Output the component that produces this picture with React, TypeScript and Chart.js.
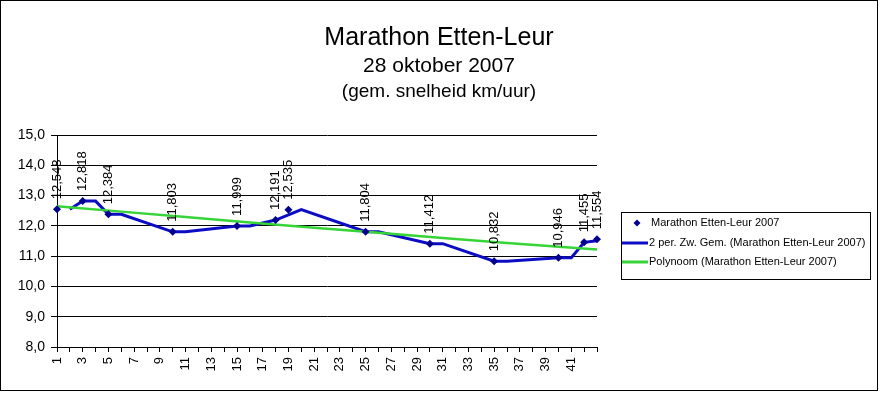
import React, { useEffect, useRef } from 'react';
import { Chart, registerables } from 'chart.js';

Chart.register(...registerables);

const FONT = "'Liberation Sans', Arial, Helvetica, sans-serif";

const categories = [
  '1', '2', '3', '4', '5', '6', '7', '8', '9', '10',
  '11', '12', '13', '14', '15', '16', '17', '18', '19', '20',
  '21', '22', '23', '24', '25', '26', '27', '28', '29', '30',
  '31', '32', '33', '34', '35', '36', '37', '38', '39', '40',
  '41', '42', '43',
];

// measured average speeds (km/uur) at the km points
const measuredKm = [1, 3, 5, 10, 15, 18, 19, 25, 30, 35, 40, 42, 43];
const measuredSpeed = [12.548, 12.818, 12.384, 11.803, 11.999, 12.191, 12.535, 11.804, 11.412, 10.832, 10.946, 11.455, 11.554];

// 2-period moving average trendline
const movingAvgKm = [2, 3, 4, 5, 6, 10, 11, 15, 16, 18, 19, 20, 25, 26, 30, 31, 35, 36, 40, 41, 42, 43];
const movingAvgSpeed = [12.548, 12.818, 12.818, 12.384, 12.384, 11.803, 11.803, 11.999, 11.999, 12.191, 12.363, 12.535, 11.804, 11.804, 11.412, 11.412, 10.832, 10.832, 10.946, 10.946, 11.455, 11.505];

// polynomial trendline
const trendKm = [1, 6, 11, 16, 21, 26, 31, 36, 43];
const trendSpeed = [12.65, 12.47, 12.29, 12.11, 11.94, 11.77, 11.6, 11.43, 11.22];

const titleLines = ['Marathon Etten-Leur', '28 oktober 2007', '(gem. snelheid km/uur)'];
const seriesNames = [
  'Marathon Etten-Leur 2007',
  '2 per. Zw. Gem. (Marathon Etten-Leur 2007)',
  'Polynoom (Marathon Etten-Leur 2007)',
];

const NAVY = '#00008e';
const BLUE = '#0c0cc4';
const GREEN = '#36d436';

function spread(xs: number[], ys: number[]): (number | null)[] {
  const arr: (number | null)[] = categories.map(() => null);
  xs.forEach((x, i) => {
    const idx = categories.indexOf(String(x));
    if (idx >= 0) arr[idx] = ys[i];
  });
  return arr;
}

const fmt = (v: number, d: number) => v.toFixed(d).replace('.', ',');

const framePlugin = {
  id: 'frame',
  beforeDraw(chart: any) {
    const ctx = chart.ctx;
    ctx.save();
    ctx.fillStyle = '#fff';
    ctx.fillRect(0, 0, chart.width, chart.height);
    ctx.strokeStyle = '#000';
    ctx.lineWidth = 1;
    ctx.strokeRect(0.5, 0.5, 877, 390);
    ctx.restore();
  },
};

const titlePlugin = {
  id: 'titles',
  afterDraw(chart: any) {
    const ctx = chart.ctx;
    ctx.save();
    ctx.fillStyle = '#000';
    ctx.textAlign = 'center';
    ctx.textBaseline = 'alphabetic';
    const specs = [
      { size: 25, y: 45 },
      { size: 21, y: 72 },
      { size: 19, y: 97 },
    ];
    titleLines.forEach((t, i) => {
      ctx.font = `${specs[i].size}px ${FONT}`;
      ctx.fillText(t, 439, specs[i].y);
    });
    ctx.restore();
  },
};

const labelPlugin = {
  id: 'pointLabels',
  afterDatasetsDraw(chart: any) {
    const ctx = chart.ctx;
    const meta = chart.getDatasetMeta(0);
    const data = chart.data.datasets[0].data as (number | null)[];
    ctx.save();
    ctx.font = `13px ${FONT}`;
    ctx.fillStyle = '#000';
    ctx.textAlign = 'left';
    ctx.textBaseline = 'middle';
    meta.data.forEach((pt: any, i: number) => {
      const v = data[i];
      if (v == null) return;
      ctx.save();
      ctx.translate(pt.x, pt.y - 10);
      ctx.rotate(-Math.PI / 2);
      ctx.fillText(fmt(v, 3), 0, 0);
      ctx.restore();
    });
    ctx.restore();
  },
};

const legendPlugin = {
  id: 'boxLegend',
  afterDraw(chart: any) {
    const ctx = chart.ctx;
    const left = 621.5, top = 212.5, right = 870.5, bottom = 279.5;
    ctx.save();
    ctx.strokeStyle = '#000';
    ctx.lineWidth = 1;
    ctx.strokeRect(left, top, right - left, bottom - top);
    const rows = [223, 243, 262];
    const dsets = chart.data.datasets;
    ctx.font = `11px ${FONT}`;
    ctx.textAlign = 'left';
    ctx.textBaseline = 'middle';
    dsets.forEach((ds: any, i: number) => {
      const y = rows[i];
      if (i === 0) {
        ctx.fillStyle = ds.pointBackgroundColor;
        ctx.beginPath();
        ctx.moveTo(637, y - 3.5);
        ctx.lineTo(640.5, y);
        ctx.lineTo(637, y + 3.5);
        ctx.lineTo(633.5, y);
        ctx.closePath();
        ctx.fill();
      } else {
        ctx.strokeStyle = ds.borderColor;
        ctx.lineWidth = 3;
        ctx.beginPath();
        ctx.moveTo(622, y);
        ctx.lineTo(648, y);
        ctx.stroke();
      }
      ctx.fillStyle = '#000';
      ctx.fillText(ds.label, i === 0 ? 651 : 649, y);
    });
    ctx.restore();
  },
};

export default function App() {
  const ref = useRef<HTMLCanvasElement>(null);
  useEffect(() => {
    const canvas = ref.current;
    if (!canvas) return;
    const n = categories.length;
    const chart = new Chart(canvas, {
      type: 'line',
      data: {
        labels: categories,
        datasets: [
          {
            label: seriesNames[0],
            data: spread(measuredKm, measuredSpeed),
            showLine: false,
            pointStyle: 'rectRot',
            pointRadius: 4,
            pointBackgroundColor: NAVY,
            pointBorderColor: NAVY,
            pointBorderWidth: 0,
            borderColor: NAVY,
            clip: false,
            order: 0,
          } as any,
          {
            label: seriesNames[1],
            data: spread(movingAvgKm, movingAvgSpeed),
            borderColor: BLUE,
            borderWidth: 3,
            pointRadius: 0,
            spanGaps: true,
            tension: 0,
            clip: false,
            order: 2,
          } as any,
          {
            label: seriesNames[2],
            data: spread(trendKm, trendSpeed),
            borderColor: GREEN,
            borderWidth: 2.5,
            pointRadius: 0,
            spanGaps: true,
            tension: 0,
            clip: false,
            order: 1,
          } as any,
        ],
      },
      options: {
        animation: false,
        responsive: true,
        maintainAspectRatio: false,
        layout: { padding: { left: 0, right: 283, top: 135, bottom: 0 } },
        plugins: {
          legend: { display: false },
          title: { display: false },
          tooltip: { enabled: false },
        },
        scales: {
          x: {
            type: 'category',
            offset: false,
            grid: { display: true, drawOnChartArea: false, drawTicks: true, tickLength: 5, color: '#000' },
            border: { color: '#000', width: 1 },
            ticks: {
              autoSkip: false,
              maxRotation: 90,
              minRotation: 90,
              padding: 5,
              color: '#000',
              font: { family: FONT, size: 13 },
              callback: (_v: any, i: number) => (i % 2 === 0 && i < n - 1 ? categories[i] : ''),
            },
            afterFit: (s: any) => {
              s.height = 46;
            },
          },
          y: {
            min: 8,
            max: 15,
            ticks: {
              stepSize: 1,
              color: '#000',
              padding: 6,
              font: { family: FONT, size: 14 },
              callback: (v: any) => fmt(Number(v), 1),
            },
            grid: { color: '#000', tickLength: 6 },
            border: { color: '#000', width: 1 },
            afterFit: (s: any) => {
              s.width = 57;
            },
          },
        },
      } as any,
      plugins: [framePlugin, labelPlugin, legendPlugin, titlePlugin],
    });
    return () => chart.destroy();
  }, []);
  return (
    <div style={{ position: 'absolute', left: 0, top: 0, width: 880, height: 393, background: '#fff' }}>
      <canvas ref={ref} />
    </div>
  );
}
